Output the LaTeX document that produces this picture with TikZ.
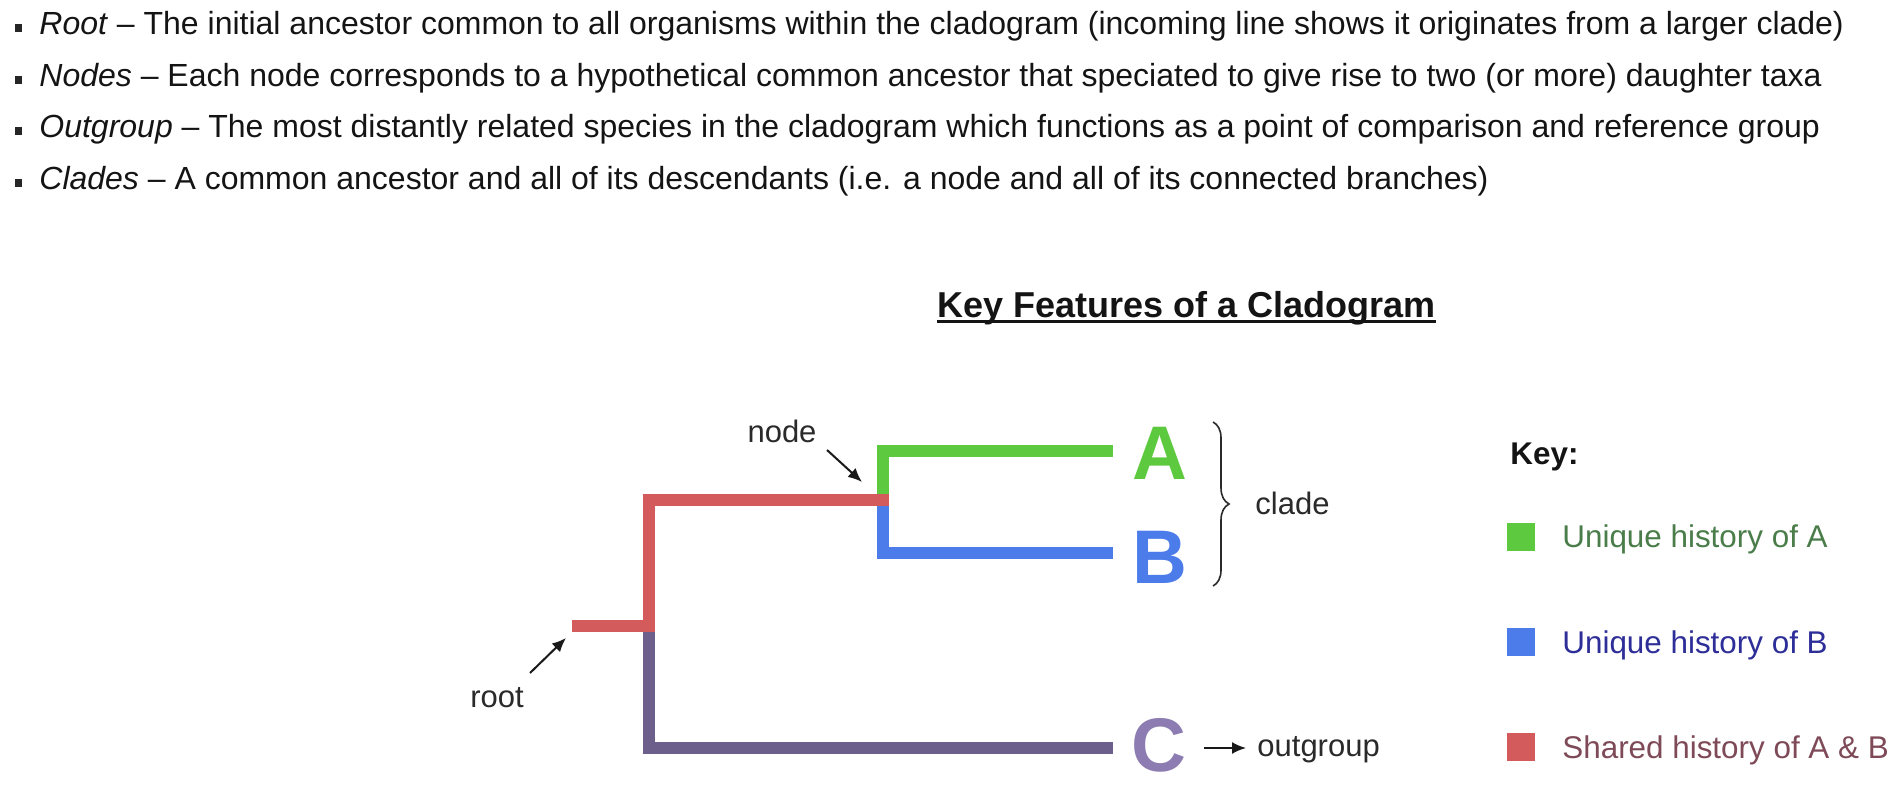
\documentclass[tikz,border=0pt]{standalone}
\usepackage{fontspec}
\setmainfont{Liberation Sans}
\usetikzlibrary{arrows.meta,decorations.pathreplacing}
\definecolor{cgreen}{HTML}{5CC93E}
\definecolor{cblue}{HTML}{4C7BEA}
\definecolor{cred}{HTML}{D35B5B}
\definecolor{cpurple}{HTML}{6D5F8C}
\definecolor{cpurpleL}{HTML}{8C7CB2}
\definecolor{tgreen}{HTML}{4A7D4A}
\definecolor{tblue}{HTML}{2E2E99}
\definecolor{tred}{HTML}{7E4A57}
\definecolor{lbl}{HTML}{2A2A2A}
\begin{document}
\begin{tikzpicture}[x=0.5pt,y=-0.5pt,
  txt/.style={anchor=base west,inner sep=0pt,font=\fontsize{16}{19}\selectfont,text=black!92},
  bul/.style={fill=black!85,inner sep=0pt,minimum width=3.5pt,minimum height=4pt},
  br/.style={line width=6pt,line join=miter,line cap=butt},
  letter/.style={anchor=base,inner sep=0pt,font=\fontsize{38}{40}\selectfont\bfseries},
  lab/.style={inner sep=0pt,font=\fontsize{15.5}{18}\selectfont,text=lbl},
  arr/.style={line width=1pt,draw=black!90,-{Latex[length=7pt,width=6pt]}},
  sq/.style={inner sep=0pt,minimum size=14pt},
  leg/.style={anchor=base west,inner sep=0pt,font=\fontsize{15.7}{18}\selectfont}
]
\useasboundingbox (0,0) rectangle (1900,790);
\fill[white] (0,0) rectangle (1900,790);

% bullet list
\node[bul] (b1) at (18.5,28) {};
\node[bul] (b2) at (18.5,80) {};
\node[bul] (b3) at (18.5,131) {};
\node[bul] (b4) at (18.5,183) {};
\node[txt] (l1) at (39,35) {\textit{Root} – The initial ancestor common to all organisms within the cladogram (incoming line shows it originates from a larger clade)};
\node[txt] (l2) at (39,87) {\textit{Nodes} – Each node corresponds to a hypothetical common ancestor that speciated to give rise to two (or more) daughter taxa};
\node[txt] (l3) at (39,138) {\textit{Outgroup} – The most distantly related species in the cladogram which functions as a point of comparison and reference group};
\node[txt] (l4) at (39,190) {\textit{Clades} – A common ancestor and all of its descendants (i.e. a node and all of its connected branches)};

% title
\node[anchor=base west,inner sep=0pt,font=\fontsize{18}{21}\selectfont\bfseries,text=black!92] (title) at (937,318) {Key Features of a Cladogram};
\draw[line width=1.5pt,black!92] ([yshift=-1.75pt]title.base west) -- ([yshift=-1.75pt]title.base east);

% tree coordinates
\coordinate (rs) at (572,626);
\coordinate (rj) at (649,626);
\coordinate (pj) at (649,632);
\coordinate (ndr) at (889,500);
\coordinate (ndt) at (883,494);
\coordinate (ndb) at (883,506);
\coordinate (ge) at (1113,451);
\coordinate (be) at (1113,553);
\coordinate (pe) at (1113,748);

\draw[br,cgreen] (ndt) |- (ge);
\draw[br,cblue] (ndb) |- (be);
\draw[br,cpurple] (pj) |- (pe);
\draw[br,cred] (rs) -- (rj) |- (ndr);

% tip letters
\node[letter,text=cgreen] (A) at (1160,480) {A};
\node[letter,text=cblue] (B) at (1160,583) {B};
\node[letter,text=cpurpleL] (C) at (1159,771) {C};

% labels and pointers
\node[lab,anchor=base] (nodelbl) at (782,443) {node};
\coordinate (nodeS) at (827,450);
\coordinate (nodeT) at (862,482);
\draw[arr] (nodeS) -- (nodeT);

\node[lab,anchor=base] (rootlbl) at (497,707) {root};
\coordinate (rootS) at (530,673);
\coordinate (rootT) at (566,638);
\draw[arr] (rootS) -- (rootT);

\coordinate (brT) at (1213,422);
\coordinate (brB) at (1213,586);
\draw[line width=0.8pt,lbl,decorate,decoration={brace,amplitude=8pt}] (brT) -- (brB);
\node[lab,anchor=base west] (clade) at (1255,515) {clade};

\node[lab,anchor=base west] (outg) at (1257,756) {outgroup};
\coordinate (ogS) at (1204,748);
\coordinate (ogT) at (1246,748);
\draw[arr] (ogS) -- (ogT);

% key
\node[leg,font=\fontsize{15.7}{18}\selectfont\bfseries,text=black!92] (key) at (1510,465) {Key:};
\node[sq,fill=cgreen] (sqA) at (1521,537) {};
\node[sq,fill=cblue] (sqB) at (1521,642) {};
\node[sq,fill=cred] (sqR) at (1521,747) {};
\node[leg,text=tgreen] (kA) at (1562,548) {Unique history of A};
\node[leg,text=tblue] (kB) at (1562,653) {Unique history of B};
\node[leg,text=tred] (kR) at (1562,758) {Shared history of A \& B};
\end{tikzpicture}
\end{document}
